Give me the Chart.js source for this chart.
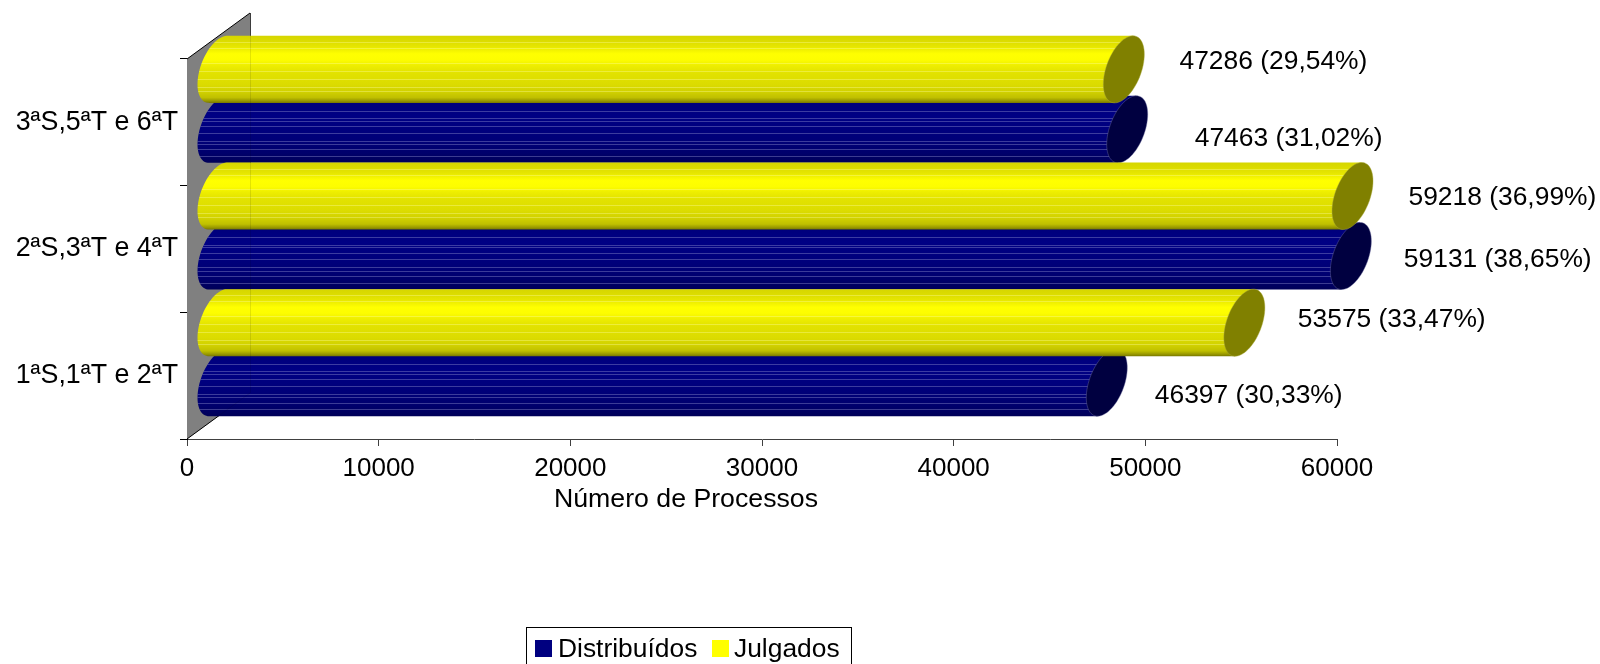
<!DOCTYPE html>
<html><head><meta charset="utf-8">
<style>html,body{margin:0;padding:0;background:#fff}#w{width:1600px;height:664px;position:relative}</style>
<script src="https://cdn.jsdelivr.net/npm/chart.js@4"></script>
</head><body><div id="w"><canvas id="c" width="1600" height="664"></canvas></div>
<script>
const categories = ['1ªS,1ªT e 2ªT', '2ªS,3ªT e 4ªT', '3ªS,5ªT e 6ªT'];
const distribuidos = [46397, 59131, 47463];
const julgados = [53575, 59218, 47286];
const pctDistribuidos = ['30,33', '38,65', '31,02'];
const pctJulgados = ['33,47', '36,99', '29,54'];
const xTicks = [0, 10000, 20000, 30000, 40000, 50000, 60000];
const FONT = '"Liberation Sans", Arial, sans-serif';
// 3D look
const DEPTH = {x: 30.5, y: -23};
const WALL = {x: 63, y: -46};
const CAP = {x: 20.5, y: -15};
// manual label placement, relative to the bar's end cap
const nudgeD = [[48, -10], [53, -19], [67.5, -14]];
const nudgeJ = [[53.5, -26], [56, -21.7], [55.7, -31]];
const yellowStops = [[0,'#d6d600'],[.08,'#dcdc00'],[.16,'#e6e600'],[.22,'#f4f400'],[.27,'#ffff00'],[.36,'#fdfd00'],[.44,'#eeee00'],[.55,'#e2e200'],[.72,'#dcdc00'],[.84,'#d0d000'],[.92,'#c0c000'],[.97,'#989800'],[1,'#787800']];
const blueStops = [[0,'#000070'],[.1,'#00007c'],[.3,'#000084'],[.5,'#00007e'],[.7,'#000076'],[.85,'#00006c'],[1,'#000058']];
const yellowLines = [.09,.18,.4,.52,.64,.76,.82];
const blueLines = [.22,.33,.37,.45,.55,.67,.72,.8,.9];

function gradient(ctx, top, bottom, stops){
  const g = ctx.createLinearGradient(0, top, 0, bottom);
  stops.forEach(s => g.addColorStop(s[0], s[1]));
  return g;
}
function stripes(ctx, top, bottom, lines, color){
  ctx.fillStyle = color;
  const h = bottom - top;
  lines.forEach(l => ctx.fillRect(-1e4, Math.round(top + l*h), 3e4, 1));
}
function ellipseTrace(ctx, cx, cy, halfH){
  for(let i=0;i<=72;i++){
    const t=i/72*Math.PI*2;
    const x=cx+Math.sin(t)*CAP.x;
    const y=cy+Math.cos(t)*halfH+Math.sin(t)*CAP.y;
    if(i===0)ctx.moveTo(x,y);else ctx.lineTo(x,y);
  }
  ctx.closePath();
}
const cylinders = {
  id:'cylinders',
  beforeDatasetDraw(chart,args){
    const ctx=chart.ctx, meta=args.meta, ds=chart.data.datasets[args.index];
    const isY = args.index===1;
    meta.data.forEach(el=>{
      const halfH=el.height/2;
      const span=Math.sqrt(halfH*halfH+CAP.y*CAP.y);
      const tx=CAP.x*(-CAP.y)/span, cy=el.y+DEPTH.y;
      const x0=el.base+DEPTH.x, x1=el.x+DEPTH.x;
      const top=cy-span,bot=cy+span;
      ctx.save();
      // body: base ellipse plus swept side, same winding so they union
      ctx.beginPath();
      ellipseTrace(ctx,x0,cy,halfH);
      ctx.moveTo(x0+tx,top);ctx.lineTo(x0-tx,bot);ctx.lineTo(x1-tx,bot);ctx.lineTo(x1+tx,top);ctx.closePath();
      ctx.fillStyle=gradient(ctx,top,bot,isY?yellowStops:blueStops);
      ctx.fill('nonzero');
      ctx.clip('nonzero');
      stripes(ctx,top,bot,isY?yellowLines:blueLines,isY?'rgba(255,255,170,.35)':'rgba(150,150,210,.4)');
      ctx.restore();
      // end cap
      ctx.beginPath();
      ellipseTrace(ctx,x1,cy,halfH);
      ctx.fillStyle=ds.capColor;ctx.fill();
      ctx.strokeStyle=isY?'rgba(170,170,60,.6)':'rgba(110,110,160,.6)';ctx.lineWidth=.7;ctx.stroke();
    });
    return false;
  }
};
const walls = {
  id:'walls',
  beforeDatasetsDraw(chart){
    const ctx=chart.ctx, a=chart.chartArea;
    ctx.save();
    ctx.beginPath();
    ctx.moveTo(a.left,a.top);ctx.lineTo(a.left+WALL.x,a.top+WALL.y);
    ctx.lineTo(a.left+WALL.x,a.bottom+WALL.y);ctx.lineTo(a.left,a.bottom);ctx.closePath();
    ctx.fillStyle='#808080';ctx.fill();
    ctx.strokeStyle='#000';ctx.lineWidth=1;
    ctx.beginPath();ctx.moveTo(a.left,a.top);ctx.lineTo(a.left+WALL.x,a.top+WALL.y);
    ctx.moveTo(a.left,a.bottom);ctx.lineTo(a.left+WALL.x,a.bottom+WALL.y);ctx.stroke();
    ctx.strokeStyle='#444';
    ctx.beginPath();ctx.moveTo(a.left+WALL.x+.5,a.top+WALL.y);ctx.lineTo(a.left+WALL.x+.5,a.bottom+WALL.y);ctx.stroke();
    ctx.restore();
  },
  afterDatasetsDraw(chart){
    const ctx=chart.ctx, a=chart.chartArea;
    ctx.save();
    ctx.strokeStyle='rgba(0,0,0,.1)';ctx.lineWidth=1;
    ctx.beginPath();
    ctx.moveTo(a.left+WALL.x+.5,a.top+WALL.y);ctx.lineTo(a.left+WALL.x+.5,a.bottom+WALL.y);
    ctx.moveTo(a.left,a.bottom);ctx.lineTo(a.left+WALL.x,a.bottom+WALL.y);
    ctx.stroke();
    ctx.restore();
  }
};
const annotations = {
  id:'annotations',
  afterDraw(chart){
    const ctx=chart.ctx;
    ctx.save();
    ctx.fillStyle='#000';ctx.font='26.4px '+FONT;ctx.textBaseline='middle';ctx.textAlign='left';
    [[0,pctDistribuidos,nudgeD],[1,pctJulgados,nudgeJ]].forEach(([di,pct,nudge])=>{
      const ds=chart.data.datasets[di];
      chart.getDatasetMeta(di).data.forEach((el,i)=>{
        ctx.fillText(ds.data[i]+' ('+pct[i]+'%)',el.x+DEPTH.x+nudge[i][0],el.y+nudge[i][1]);
      });
    });
    // axis title
    ctx.textAlign='center';
    ctx.font='26.7px '+FONT;
    ctx.fillText('Número de Processos',686,500);
    // legend
    ctx.font='26.4px '+FONT;
    ctx.strokeStyle='#000';ctx.lineWidth=1;
    ctx.fillStyle='#fff';
    ctx.fillRect(526.5,627.5,325,37);ctx.strokeRect(526.5,627.5,325,37);
    ctx.textAlign='left';
    ctx.fillStyle=chart.data.datasets[0].backgroundColor;ctx.fillRect(535,640,17,17);
    ctx.fillStyle='#000';ctx.fillText(chart.data.datasets[0].label,558,650);
    ctx.fillStyle=chart.data.datasets[1].backgroundColor;ctx.fillRect(712,640,17,17);
    ctx.fillStyle='#000';ctx.fillText(chart.data.datasets[1].label,734,650);
    ctx.restore();
  }
};
new Chart(document.getElementById('c'),{
  type:'bar',
  data:{labels:categories,datasets:[
    {label:'Distribuídos',data:distribuidos,backgroundColor:'#000080',capColor:'#000040',order:2},
    {label:'Julgados',data:julgados,backgroundColor:'#ffff00',capColor:'#808000',order:1}
  ]},
  options:{
    indexAxis:'y',responsive:false,animation:false,
    categoryPercentage:.947,barPercentage:1,
    layout:{padding:{left:0,right:263,top:59,bottom:0}},
    plugins:{legend:{display:false},tooltip:{enabled:false},title:{display:false}},
    scales:{
      x:{type:'linear',min:0,max:60000,
        afterFit(s){s.height=225;s.paddingLeft=0;s.paddingRight=0;},
        afterBuildTicks(s){s.ticks=xTicks.map(v=>({value:v}));},
        border:{color:'#404040',width:1},
        grid:{drawOnChartArea:false,drawTicks:true,tickLength:7,color:'#404040'},
        ticks:{color:'#000',font:{family:FONT,size:26},maxRotation:0,padding:7,callback:v=>String(v)}
      },
      y:{reverse:true,
        afterFit(s){s.width=187;s.paddingTop=0;s.paddingBottom=0;},
        border:{color:'#000',width:1},
        grid:{drawOnChartArea:false,drawTicks:true,tickLength:7,color:'#000',offset:true},
        ticks:{color:'#000',font:{family:FONT,size:26.8},padding:2}
      }
    }
  },
  plugins:[walls,cylinders,annotations]
});
</script></body></html>
